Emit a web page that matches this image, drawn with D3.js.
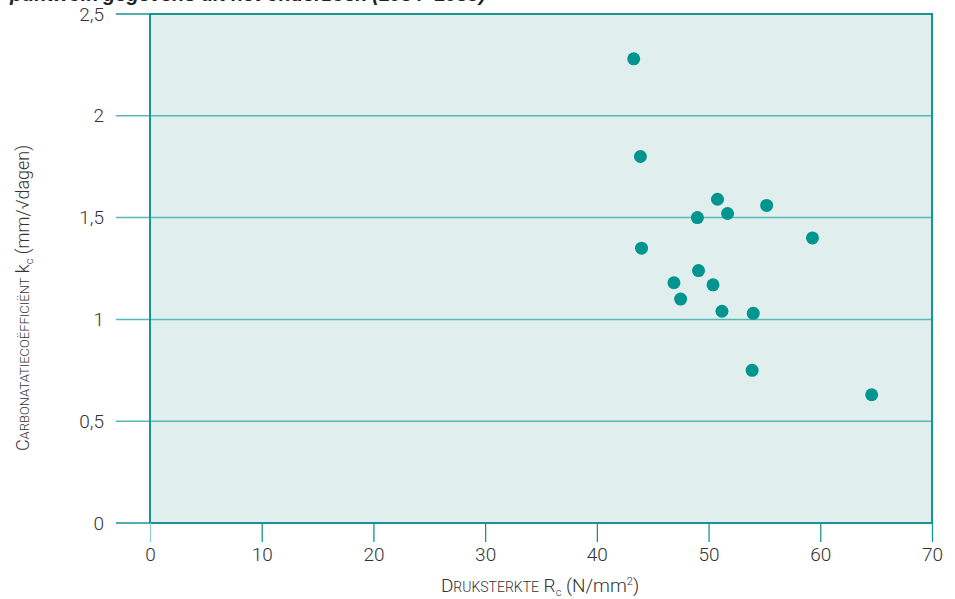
<!DOCTYPE html>
<html>
<head>
<meta charset="utf-8">
<script src="https://cdn.jsdelivr.net/npm/d3@7"></script>
<style>
  body { margin: 0; background: #fff; }
  text { font-family: Roboto, "Liberation Sans", sans-serif; font-weight: 300; fill: #333; }
</style>
</head>
<body>
<div class="graphHolder"></div>
<script>
// druksterkte (N/mm2) en carbonatatiecoefficient (mm/sqrt(dagen))
let strength = [43.3, 43.9, 44.0, 46.9, 47.5, 49.0, 49.1, 50.4, 50.8, 51.2, 51.7, 54.0, 53.9, 55.2, 59.3, 64.6];
let kc = [2.28, 1.80, 1.35, 1.18, 1.10, 1.50, 1.24, 1.17, 1.59, 1.04, 1.52, 1.03, 0.75, 1.56, 1.40, 0.63];
let xTicks = [0, 10, 20, 30, 40, 50, 60, 70];
let yTicks = [0, 0.5, 1, 1.5, 2, 2.5];

let w = 955,
  h = 599,
  plotLeft = 150,
  plotRight = 932,
  plotTop = 14,
  plotBottom = 523;

let svg = d3.select(".graphHolder")
  .append("svg")
  .attr("width", w)
  .attr("height", h);

let xScale = d3.scaleLinear().domain([0, 70]).range([plotLeft, plotRight]);
let yScale = d3.scaleLinear().domain([0, 2.5]).range([plotBottom, plotTop]);

// afgesneden titel boven de grafiek (alleen de onderkant is zichtbaar)
svg.append("text")
  .attr("x", 10)
  .attr("y", 1)
  .style("font-family", "'Liberation Sans', sans-serif")
  .style("font-weight", "bold")
  .style("font-style", "italic")
  .style("font-size", "20px")
  .style("fill", "#222")
  .text("puntwolk gegevens uit het onderzoek (1984–1985)");

// plot area
svg.append("rect")
  .attr("x", plotLeft)
  .attr("y", plotTop)
  .attr("width", plotRight - plotLeft)
  .attr("height", plotBottom - plotTop)
  .attr("fill", "#e0efee");

// horizontal grid lines, extending left past the axis
svg.selectAll("line.grid")
  .data(yTicks)
  .enter()
  .append("line")
  .attr("class", "grid")
  .attr("x1", plotLeft - 34)
  .attr("x2", d => (d == 0 || d == 2.5) ? plotLeft : plotRight)
  .attr("y1", d => yScale(d))
  .attr("y2", d => yScale(d))
  .attr("stroke", d => (d == 0 || d == 2.5) ? "#17958f" : "#55bab7")
  .attr("stroke-width", 1.5);

// border
svg.append("rect")
  .attr("x", plotLeft)
  .attr("y", plotTop)
  .attr("width", plotRight - plotLeft)
  .attr("height", plotBottom - plotTop)
  .attr("fill", "none")
  .attr("stroke", "#17958f")
  .attr("stroke-width", 2);

// x ticks
const xAxis = d3.axisBottom(xScale)
  .tickValues(xTicks)
  .tickSize(19)
  .tickPadding(6)
  .tickFormat(d3.format("d"));

let xAxisGroup = svg.append("g")
  .attr("transform", "translate(0," + plotBottom + ")")
  .call(xAxis);
xAxisGroup.select(".domain").remove();
xAxisGroup.selectAll(".tick line")
  .attr("stroke", d => d == 0 ? "#8fd0cd" : "#17958f")
  .attr("stroke-width", 1.3);
xAxisGroup.selectAll(".tick text")
  .style("font-size", "19px")
  .style("fill", "#333")
  .style("font-family", "Roboto, sans-serif");

// y labels
const yAxis = d3.axisLeft(yScale)
  .tickValues(yTicks)
  .tickSize(0)
  .tickPadding(46)
  .tickFormat(d => String(d).replace(".", ","));

let yAxisGroup = svg.append("g")
  .attr("transform", "translate(" + plotLeft + ",0)")
  .call(yAxis);
yAxisGroup.select(".domain").remove();
yAxisGroup.selectAll(".tick text")
  .style("font-size", "19px")
  .style("fill", "#333")
  .style("font-family", "Roboto, sans-serif");

// punten
svg.selectAll("circle")
  .data(strength)
  .enter()
  .append("circle")
  .attr("cx", d => xScale(d))
  .attr("cy", (d, i) => yScale(kc[i]))
  .attr("r", 6.5)
  .attr("fill", "#00958f");

// x axis title (kleinkapitaal)
let xt = svg.append("text")
  .attr("x", 540)
  .attr("y", 592)
  .attr("text-anchor", "middle")
  .style("font-size", "19px");
xt.append("tspan").text("D");
xt.append("tspan").style("font-size", "14px").text("RUKSTERKTE");
xt.append("tspan").text(" R");
xt.append("tspan").style("font-size", "11px").attr("dy", 4).text("c");
xt.append("tspan").attr("dy", -4).text(" (N/mm");
xt.append("tspan").style("font-size", "11px").attr("dy", -7).text("2");
xt.append("tspan").attr("dy", 7).text(")");

// y axis title
let yt = svg.append("text")
  .attr("transform", "translate(29,298) rotate(-90)")
  .attr("text-anchor", "middle")
  .style("font-size", "18px");
yt.append("tspan").text("C");
yt.append("tspan").style("font-size", "13px").text("ARBONATATIECOËFFICIËNT");
yt.append("tspan").text(" k");
yt.append("tspan").style("font-size", "11px").attr("dy", 4).text("c");
yt.append("tspan").attr("dy", -4).text(" (mm/√dagen)");
</script>
</body>
</html>
